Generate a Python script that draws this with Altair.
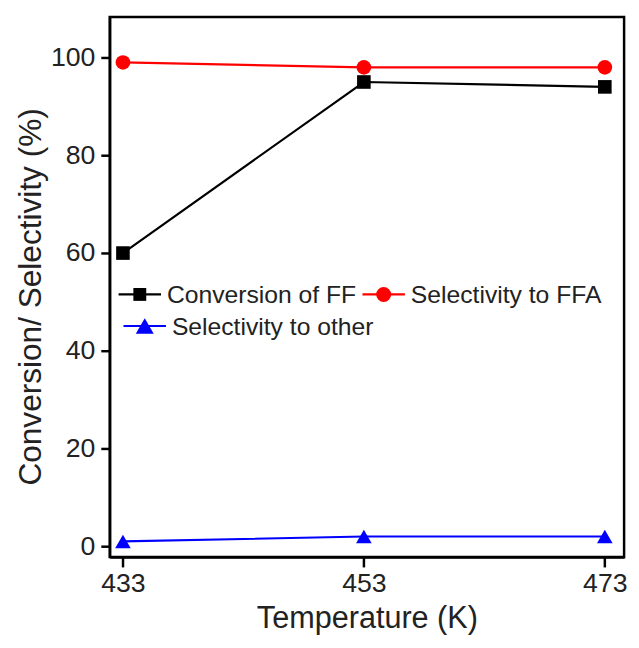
import altair as alt
import pandas as pd

temperature = [433, 453, 473]
conversion_ff = [60, 95, 94]
selectivity_ffa = [99, 98, 98]
selectivity_other = [1, 2, 2]

series_names = ["Conversion of FF", "Selectivity to FFA", "Selectivity to other"]
series_colors = ["#000000", "#ff0000", "#0000ff"]
series_shapes = ["square", "circle", "triangle-up"]
marker_sizes = [190, 250, 320]

rows = []
for name, vals in zip(series_names, [conversion_ff, selectivity_ffa, selectivity_other]):
    for t, v in zip(temperature, vals):
        rows.append({"T": t, "value": v, "series": name})
df = pd.DataFrame(rows)

FONT = "Liberation Sans"

x = alt.X("T:Q", scale=alt.Scale(domain=[431.9, 474.6], nice=False, zero=False),
          axis=alt.Axis(values=temperature, title="Temperature (K)", format="d",
                        titleFontSize=31))
y = alt.Y("value:Q", scale=alt.Scale(domain=[-2.2, 108.3], nice=False, zero=False),
          axis=alt.Axis(values=[0, 20, 40, 60, 80, 100],
                        title="Conversion/ Selectivity (%)", tickSize=9, titleY=283,
                        titleFontSize=32))

color = alt.Color("series:N", scale=alt.Scale(domain=series_names, range=series_colors), legend=None)

lines = alt.Chart(df).mark_line(strokeWidth=2.2).encode(x=x, y=y, color=color)

points = alt.Chart(df).mark_point(filled=True, opacity=1).encode(
    x=x, y=y, color=color,
    shape=alt.Shape("series:N", scale=alt.Scale(domain=series_names, range=series_shapes), legend=None),
    size=alt.Size("series:N", scale=alt.Scale(domain=series_names, range=marker_sizes), legend=None),
)

# manual legend (inside the plot area), laid out in pixels
legend_slots = [(9, 281), (256, 281), (14, 313)]  # (left of line, center y)
legend_marker_sizes = [170, 230, 330]
legend_layers = []
for name, col, shp, msz, (lx, ly) in zip(series_names, series_colors, series_shapes,
                                         legend_marker_sizes, legend_slots):
    ldf = pd.DataFrame({"label": [name]})
    base = alt.Chart(ldf)
    legend_layers.append(base.mark_rule(color=col, strokeWidth=2.2).encode(
        x=alt.value(lx), x2=alt.value(lx + 43), y=alt.value(ly)))
    legend_layers.append(base.mark_point(filled=True, opacity=1, color=col, shape=shp, size=msz).encode(
        x=alt.value(lx + 21.5), y=alt.value(ly)))
    legend_layers.append(base.mark_text(align="left", baseline="middle", font=FONT, fontSize=25,
                                        color="#222222", dy=1).encode(
        x=alt.value(lx + 49), y=alt.value(ly), text="label:N"))

chart = alt.layer(lines, points, *legend_layers).properties(
    width=521, height=547,
    autosize=alt.AutoSizeParams(type="none"),
    padding={"left": 103, "top": 5, "right": 7, "bottom": 88},
).configure_view(
    stroke="#000000", strokeWidth=2.5
).configure_axis(
    grid=False, domainColor="#000000", domainWidth=2.5, tickColor="#000000", tickWidth=2.5,
    tickSize=10, labelFont=FONT, labelFontSize=27, labelColor="#222222",
    titleFont=FONT, titleFontWeight="normal", titleColor="#222222",
).configure_axisX(labelPadding=4, titlePadding=7).configure_axisY(labelPadding=6, titlePadding=3)

chart.save("out.html", embed_options={"renderer": "svg", "actions": False})
